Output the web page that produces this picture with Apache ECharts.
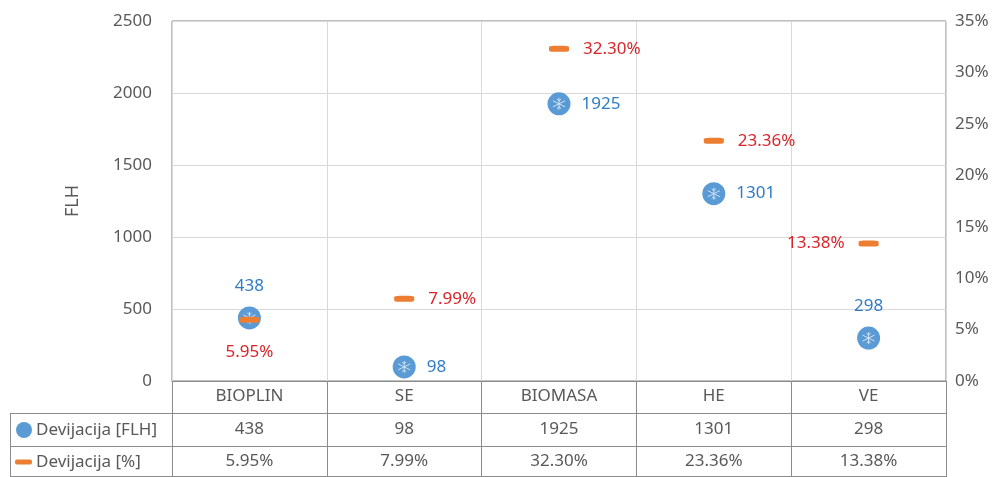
<!DOCTYPE html>
<html>
<head>
<meta charset="utf-8">
<script src="https://cdn.jsdelivr.net/npm/echarts@6/dist/echarts.min.js"></script>
<style>
  html, body { margin: 0; padding: 0; background: #fff; }
  #chart { width: 1005px; height: 477px; }
</style>
</head>
<body>
<div id="chart"></div>
<script>
// values
const categories = ['BIOPLIN', 'SE', 'BIOMASA', 'HE', 'VE'];
const flhValues = [438, 98, 1925, 1301, 298];
const pctValues = [5.95, 7.99, 32.30, 23.36, 13.38];
const flhName = 'Devijacija [FLH]';
const pctName = 'Devijacija [%]';

// label placement, per point (style only)
const flhLabelPos = ['top', 'right', 'right', 'right', 'top'];
const pctLabelPos = ['bottom', 'right', 'right', 'right', 'left'];

const FONT = 'Noto Sans';
const FS = 17;
const GREY = '#595959';
const LINE = '#8c8c8c';
const BLUE = '#5B9BD5';
const ORANGE = '#ED7D31';

const G = { left: 172, right: 59, top: 21, bottom: 96 };
const W = 1005, H = 477;
const plotR = W - G.right;

const chart = echarts.init(document.getElementById('chart'));

const flhData = flhValues.map((v, i) => ({
  value: v,
  label: { position: flhLabelPos[i], distance: flhLabelPos[i] === 'top' ? 12 : 11 },
}));
const pctData = pctValues.map((v, i) => ({
  value: v / 100,
  label: { position: pctLabelPos[i], distance: pctLabelPos[i] === 'bottom' ? 21 : 14 },
}));

function rowAxis(offset, values) {
  return {
    type: 'category',
    data: categories,
    position: 'bottom',
    offset: offset,
    axisLine: { show: false },
    axisTick: { show: false },
    splitLine: { show: false },
    axisLabel: {
      margin: 7,
      color: GREY,
      fontFamily: FONT,
      fontSize: FS,
      formatter(value, idx) { return values[idx]; },
    },
  };
}

const option = {
  animation: false,
  grid: {
    left: G.left, right: G.right, top: G.top, bottom: G.bottom,
    show: true, borderColor: '#7f7f7f', borderWidth: 1,
  },
  xAxis: [
    {
      type: 'category',
      data: categories,
      boundaryGap: true,
      axisLine: { show: true, lineStyle: { color: LINE } },
      axisTick: { show: true, length: 96, lineStyle: { color: LINE } },
      splitLine: { show: true, lineStyle: { color: '#d9d9d9' } },
      axisLabel: { margin: 7, color: GREY, fontFamily: FONT, fontSize: FS },
    },
    rowAxis(33, flhValues.map(String)),
    rowAxis(65, pctValues.map(v => v.toFixed(2) + '%')),
  ],
  yAxis: [
    {
      type: 'value',
      min: 0, max: 2500, interval: 500,
      name: 'FLH',
      nameLocation: 'middle',
      nameRotate: 90,
      nameGap: 90,
      nameTextStyle: { color: GREY, fontFamily: FONT, fontSize: FS + 1 },
      axisLine: { show: false },
      axisTick: { show: false },
      splitLine: { lineStyle: { color: '#d9d9d9' } },
      axisLabel: {
        margin: 20, color: GREY, fontFamily: FONT, fontSize: FS,
        formatter(v) { return String(v); },
      },
    },
    {
      type: 'value',
      min: 0, max: 0.35, interval: 0.05,
      position: 'right',
      axisLine: { show: false },
      axisTick: { show: false },
      splitLine: { show: false },
      axisLabel: {
        margin: 9, color: GREY, fontFamily: FONT, fontSize: FS,
        formatter(v) { return Math.round(v * 100) + '%'; },
      },
    },
  ],
  graphic: [
    // table rows
    { type: 'line', shape: { x1: 10, y1: 413.5, x2: plotR, y2: 413.5 }, style: { stroke: LINE } },
    { type: 'line', shape: { x1: 10, y1: 446.5, x2: plotR, y2: 446.5 }, style: { stroke: LINE } },
    { type: 'line', shape: { x1: 10.5, y1: 413, x2: 10.5, y2: H }, style: { stroke: LINE } },
    { type: 'line', shape: { x1: 10, y1: H - 0.5, x2: plotR, y2: H - 0.5 }, style: { stroke: LINE } },
    // legend keys
    { type: 'circle', shape: { cx: 24, cy: 430, r: 8 }, style: { fill: BLUE } },
    { type: 'rect', shape: { x: 15, y: 459.5, width: 17, height: 5, r: 2 }, style: { fill: ORANGE } },
    { type: 'text', x: 36, y: 430, style: { text: flhName, fill: GREY, font: FS + 'px ' + FONT, textVerticalAlign: 'middle' } },
    { type: 'text', x: 36, y: 462, style: { text: pctName, fill: GREY, font: FS + 'px ' + FONT, textVerticalAlign: 'middle' } },
  ],
  series: [
    {
      name: flhName,
      type: 'scatter',
      yAxisIndex: 0,
      symbol: 'circle',
      symbolSize: 23,
      itemStyle: { color: BLUE, opacity: 1 },
      label: { show: true, color: '#2E7DC6', fontFamily: FONT, fontSize: FS },
      z: 3,
      data: flhData,
    },
    {
      // pale snowflake inside the round marker
      type: 'scatter',
      yAxisIndex: 0,
      silent: true,
      symbol: 'path://M0,-10L0,10M-8.66,-5L8.66,5M-8.66,5L8.66,-5M-3,-8L0,-5L3,-8M-3,8L0,5L3,8',
      symbolSize: 12,
      itemStyle: { color: 'rgba(0,0,0,0)', borderColor: '#d2e2f3', borderWidth: 1, opacity: 1 },
      z: 4,
      data: flhValues,
    },
    {
      name: pctName,
      type: 'scatter',
      yAxisIndex: 1,
      symbol: 'roundRect',
      symbolSize: [20, 6],
      itemStyle: { color: ORANGE, opacity: 1 },
      label: {
        show: true, color: '#D9262B', fontFamily: FONT, fontSize: FS,
        formatter(p) { return (p.value * 100).toFixed(2) + '%'; },
      },
      z: 5,
      data: pctData,
    },
  ],
};

chart.setOption(option);
</script>
</body>
</html>
